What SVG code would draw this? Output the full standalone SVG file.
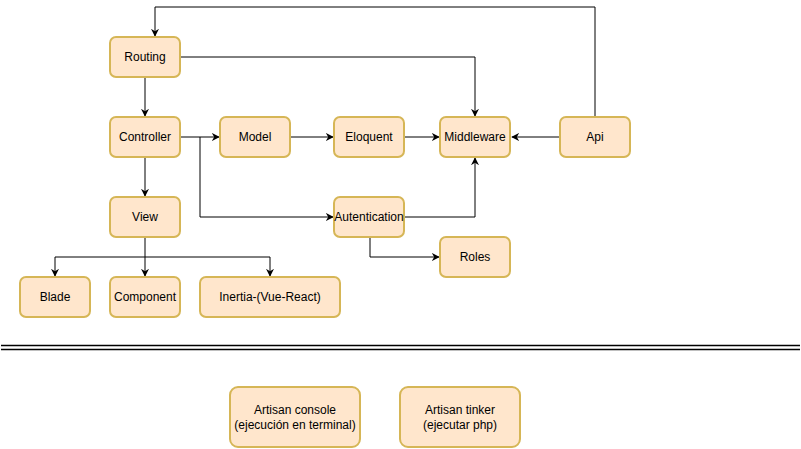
<svg xmlns="http://www.w3.org/2000/svg" width="801" height="449" viewBox="0 0 801 449">
<defs>
<marker id="arr" viewBox="0 0 10 10" refX="9" refY="5" markerWidth="8" markerHeight="8" markerUnits="userSpaceOnUse" orient="auto">
<path d="M0,0 L10,5 L0,10 L3,5 Z" fill="#000"/>
</marker>
<style>
.n rect{fill:#ffe6cc;stroke:#d6b656;stroke-width:2}
.n text{font-family:"Liberation Sans",Arial,sans-serif;font-size:12px;fill:#000;text-anchor:middle;dominant-baseline:central}
.e path{fill:none;stroke:#000;stroke-width:1;marker-end:url(#arr)}
.sep line{stroke:#000;stroke-width:1.3}
</style>
</defs>
<rect width="801" height="449" fill="#fff"/>
<g class="e" id="connectors">
<path d="M595,117 V7 H155 V36"/>
<path d="M180,57 H475 V116"/>
<path d="M145,77 V116"/>
<path d="M145,157 V196"/>
<path d="M180,137 H219"/>
<path d="M290,137 H333"/>
<path d="M404,137 H439"/>
<path d="M560,137 H512"/>
<path d="M200,137 V217 H333"/>
<path d="M404,217 H475 V158"/>
<path d="M370,237 V257 H439"/>
<path d="M145,237 V276"/>
<path d="M145,257 H55 V276"/>
<path d="M145,257 H270 V276"/>
</g>
<g class="sep" id="separator">
<line x1="1" y1="345.5" x2="800" y2="345.5"/>
<line x1="1" y1="349.5" x2="800" y2="349.5"/>
</g>
<g class="n" id="routing"><rect x="110" y="37" width="70" height="40" rx="6"/><text x="145" y="57">Routing</text></g>
<g class="n" id="controller"><rect x="110" y="117" width="70" height="40" rx="6"/><text x="145" y="137">Controller</text></g>
<g class="n" id="model"><rect x="220" y="117" width="70" height="40" rx="6"/><text x="255" y="137">Model</text></g>
<g class="n" id="eloquent"><rect x="334" y="117" width="70" height="40" rx="6"/><text x="369" y="137">Eloquent</text></g>
<g class="n" id="middleware"><rect x="440" y="117" width="70" height="40" rx="6"/><text x="475" y="137">Middleware</text></g>
<g class="n" id="api"><rect x="560" y="117" width="70" height="40" rx="6"/><text x="595" y="137">Api</text></g>
<g class="n" id="view"><rect x="110" y="197" width="70" height="40" rx="6"/><text x="145" y="217">View</text></g>
<g class="n" id="autentication"><rect x="334" y="197" width="70" height="40" rx="6"/><text x="369" y="217">Autentication</text></g>
<g class="n" id="roles"><rect x="440" y="237" width="70" height="40" rx="6"/><text x="475" y="257">Roles</text></g>
<g class="n" id="blade"><rect x="20" y="277" width="70" height="40" rx="6"/><text x="55" y="297">Blade</text></g>
<g class="n" id="component"><rect x="110" y="277" width="70" height="40" rx="6"/><text x="145" y="297">Component</text></g>
<g class="n" id="inertia"><rect x="200" y="277" width="140" height="40" rx="6"/><text x="270" y="297">Inertia-(Vue-React)</text></g>
<g class="n" id="artisan-console"><rect x="230" y="387" width="130" height="60" rx="8"/><text x="295" y="410">Artisan console</text><text x="295" y="425">(ejecución en terminal)</text></g>
<g class="n" id="artisan-tinker"><rect x="400" y="387" width="120" height="60" rx="8"/><text x="460" y="410">Artisan tinker</text><text x="460" y="425">(ejecutar php)</text></g>
</svg>
